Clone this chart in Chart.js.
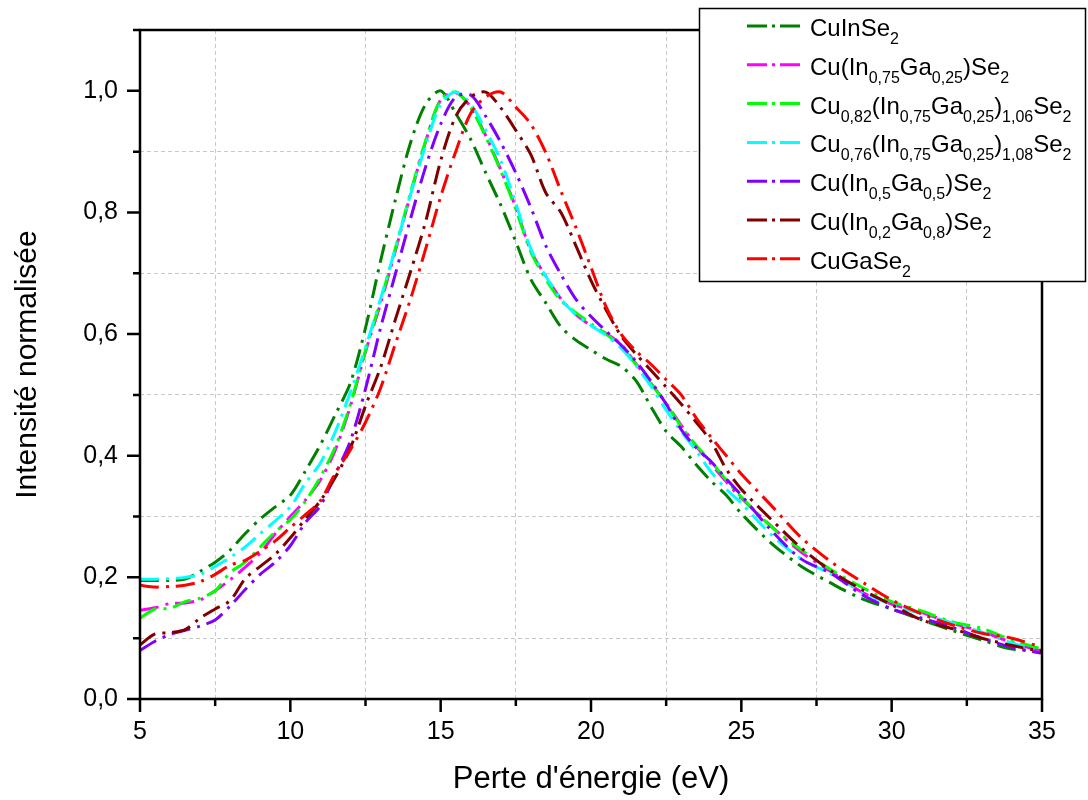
<!DOCTYPE html>
<html lang="fr">
<head>
<meta charset="utf-8">
<title>Intensité normalisée</title>
<script src="https://cdn.jsdelivr.net/npm/chart.js@4/dist/chart.umd.min.js"></script>
<style>
body { margin: 0; background: #fff; }
#graph { display: block; }
</style>
</head>
<body>
<canvas id="graph" width="1088" height="800"></canvas>
<script>
//Perte d'énergie (eV), commune à toutes les courbes
var energie = [5, 5.5, 6, 6.5, 7, 7.5, 8, 8.5, 9, 9.5, 10, 10.5, 11, 11.5, 12, 12.5, 13, 13.5, 14, 14.5,
    15, 15.5, 16, 16.5, 17, 17.5, 18, 18.5, 19, 19.5, 20, 20.5, 21, 21.5, 22, 22.5, 23, 23.5, 24, 24.5,
    25, 26, 27, 28, 29, 30, 31, 32, 33, 34, 35];

//Noms des échantillons (les indices sont notés _{...})
var noms = ["CuInSe_{2}", "Cu(In_{0,75}Ga_{0,25})Se_{2}", "Cu_{0,82}(In_{0,75}Ga_{0,25})_{1,06}Se_{2}",
    "Cu_{0,76}(In_{0,75}Ga_{0,25})_{1,08}Se_{2}", "Cu(In_{0,5}Ga_{0,5})Se_{2}", "Cu(In_{0,2}Ga_{0,8})Se_{2}", "CuGaSe_{2}"];
var couleurs = ["#008000", "#ff00ff", "#00ff00", "#00ffff", "#8000ff", "#800000", "#ff0000"];

//Intensités normalisées
var cuInSe2 = [0.195, 0.195, 0.195, 0.197, 0.21, 0.225, 0.245, 0.272, 0.296, 0.316, 0.335, 0.375, 0.418, 0.468, 0.52, 0.61, 0.72, 0.822, 0.915, 0.978,
    1.0, 0.963, 0.92, 0.865, 0.812, 0.752, 0.69, 0.651, 0.612, 0.59, 0.574, 0.559, 0.547, 0.523, 0.48, 0.44, 0.415, 0.385, 0.358, 0.335,
    0.305, 0.256, 0.218, 0.19, 0.165, 0.148, 0.13, 0.113, 0.097, 0.082, 0.08];
var cuIn75 = [0.146, 0.15, 0.157, 0.158, 0.163, 0.178, 0.196, 0.217, 0.24, 0.272, 0.3, 0.327, 0.36, 0.41, 0.482, 0.571, 0.65, 0.738, 0.83, 0.916,
    0.985, 0.997, 0.973, 0.926, 0.87, 0.808, 0.737, 0.695, 0.658, 0.632, 0.614, 0.601, 0.583, 0.551, 0.519, 0.486, 0.45, 0.416, 0.386, 0.357,
    0.33, 0.284, 0.241, 0.209, 0.176, 0.156, 0.142, 0.125, 0.111, 0.093, 0.078];
var cu82 = [0.133, 0.148, 0.149, 0.16, 0.166, 0.178, 0.208, 0.225, 0.25, 0.275, 0.295, 0.325, 0.365, 0.415, 0.485, 0.573, 0.655, 0.742, 0.833, 0.918,
    0.985, 0.998, 0.972, 0.924, 0.868, 0.805, 0.735, 0.69, 0.655, 0.635, 0.617, 0.6, 0.58, 0.55, 0.518, 0.485, 0.448, 0.417, 0.39, 0.36,
    0.332, 0.283, 0.245, 0.212, 0.184, 0.16, 0.145, 0.127, 0.116, 0.097, 0.082];
var cu76 = [0.197, 0.197, 0.198, 0.2, 0.205, 0.218, 0.233, 0.25, 0.272, 0.293, 0.316, 0.355, 0.388, 0.44, 0.505, 0.578, 0.658, 0.742, 0.83, 0.91,
    0.978, 0.998, 0.978, 0.935, 0.885, 0.815, 0.74, 0.695, 0.658, 0.632, 0.614, 0.598, 0.577, 0.548, 0.514, 0.475, 0.44, 0.408, 0.373, 0.345,
    0.322, 0.27, 0.23, 0.205, 0.177, 0.155, 0.14, 0.125, 0.11, 0.092, 0.078];
var cuIn50 = [0.08, 0.095, 0.106, 0.113, 0.12, 0.13, 0.153, 0.18, 0.205, 0.225, 0.252, 0.29, 0.318, 0.37, 0.425, 0.51, 0.61, 0.7, 0.79, 0.875,
    0.945, 0.99, 0.993, 0.958, 0.915, 0.865, 0.808, 0.745, 0.698, 0.657, 0.629, 0.605, 0.582, 0.555, 0.522, 0.485, 0.443, 0.413, 0.39, 0.362,
    0.335, 0.277, 0.23, 0.206, 0.172, 0.148, 0.133, 0.118, 0.1, 0.085, 0.075];
var cuIn20 = [0.089, 0.107, 0.109, 0.114, 0.133, 0.148, 0.162, 0.198, 0.218, 0.238, 0.265, 0.296, 0.326, 0.365, 0.413, 0.482, 0.545, 0.625, 0.703, 0.785,
    0.885, 0.958, 0.99, 0.998, 0.972, 0.935, 0.895, 0.832, 0.8, 0.745, 0.688, 0.64, 0.597, 0.567, 0.54, 0.513, 0.485, 0.455, 0.423, 0.378,
    0.345, 0.295, 0.248, 0.21, 0.18, 0.155, 0.13, 0.116, 0.1, 0.088, 0.078];
var cuGaSe2 = [0.187, 0.184, 0.185, 0.187, 0.193, 0.205, 0.22, 0.228, 0.243, 0.26, 0.282, 0.303, 0.326, 0.372, 0.41, 0.455, 0.511, 0.585, 0.658, 0.74,
    0.826, 0.9, 0.963, 0.99, 0.998, 0.973, 0.945, 0.898, 0.835, 0.775, 0.71, 0.645, 0.6, 0.572, 0.55, 0.525, 0.5, 0.462, 0.43, 0.4,
    0.37, 0.318, 0.265, 0.225, 0.193, 0.163, 0.14, 0.122, 0.108, 0.1, 0.085];
var series = [cuInSe2, cuIn75, cu82, cu76, cuIn50, cuIn20, cuGaSe2];

var police = "'Liberation Sans', Arial, sans-serif";
var tirets = [19, 7, 3, 7];

function estMajeurY(v) {
    return Math.round(v * 10) % 2 === 0;
}

//Cadre noir autour du graphe et graduations extérieures
var cadre = {
    id: 'cadre',
    afterDatasetsDraw: function(chart) {
        var ctx = chart.ctx;
        var a = chart.chartArea;
        var sx = chart.scales.x;
        var sy = chart.scales.y;
        ctx.save();
        ctx.strokeStyle = '#000';
        ctx.lineWidth = 2.5;
        ctx.strokeRect(a.left, a.top, a.right - a.left, a.bottom - a.top);
        ctx.beginPath();
        sx.ticks.forEach(function(t) {
            var px = sx.getPixelForValue(t.value);
            var len = t.value % 5 === 0 ? 13 : 7;
            ctx.moveTo(px, a.bottom);
            ctx.lineTo(px, a.bottom + len);
        });
        sy.ticks.forEach(function(t) {
            var py = sy.getPixelForValue(t.value);
            var len = estMajeurY(t.value) ? 13 : 7;
            ctx.moveTo(a.left, py);
            ctx.lineTo(a.left - len, py);
        });
        ctx.stroke();
        ctx.restore();
    }
};

//Légende dessinée à la main pour avoir les indices
var legende = {
    id: 'legende',
    afterDraw: function(chart) {
        var ctx = chart.ctx;
        ctx.save();
        ctx.fillStyle = '#fff';
        ctx.fillRect(699, 8, 387, 274);
        ctx.strokeStyle = '#000';
        ctx.lineWidth = 1.5;
        ctx.strokeRect(699.5, 8.5, 386, 273);
        chart.data.datasets.forEach(function(ds, i) {
            var y = 26 + i * 38.8;
            ctx.strokeStyle = ds.borderColor;
            ctx.lineWidth = 3;
            ctx.setLineDash([20, 5, 3, 5]);
            ctx.beginPath();
            ctx.moveTo(747, y);
            ctx.lineTo(800, y);
            ctx.stroke();
            ctx.setLineDash([]);
            var x = 810;
            ctx.fillStyle = '#000';
            ctx.textBaseline = 'alphabetic';
            ctx.textAlign = 'left';
            ds.label.split(/(_\{[^}]*\})/).forEach(function(morceau) {
                if (morceau === '') return;
                var m = morceau.match(/^_\{([^}]*)\}$/);
                if (m) {
                    ctx.font = '16px ' + police;
                    ctx.fillText(m[1], x, y + 18);
                    x += ctx.measureText(m[1]).width;
                } else {
                    ctx.font = '24px ' + police;
                    ctx.fillText(morceau, x, y + 10);
                    x += ctx.measureText(morceau).width;
                }
            });
        });
        ctx.restore();
    }
};

var datasets = series.map(function(valeurs, i) {
    return {
        label: noms[i],
        data: valeurs.map(function(v, k) { return { x: energie[k], y: v }; }),
        borderColor: couleurs[i],
        borderWidth: 3,
        borderDash: tirets,
        fill: false,
        pointRadius: 0,
        tension: 0.3,
        order: series.length - 1 - i
    };
});

window.myChart = new Chart(document.getElementById('graph'), {
    type: 'line',
    data: { datasets: datasets },
    options: {
        responsive: false,
        animation: false,
        layout: { padding: { top: 30, right: 46, left: 0, bottom: 0 } },
        plugins: {
            legend: { display: false },
            tooltip: { enabled: false }
        },
        scales: {
            x: {
                type: 'linear',
                min: 5,
                max: 35,
                afterFit: function(s) { s.height = 101; },
                ticks: {
                    stepSize: 2.5,
                    autoSkip: false,
                    maxRotation: 0,
                    maxTicksLimit: 100,
                    padding: 5,
                    color: '#000',
                    font: { family: police, size: 25 },
                    callback: function(v) { return v % 5 === 0 ? String(v) : ''; }
                },
                grid: {
                    color: function(c) { return c.tick && c.tick.value % 5 !== 0 ? '#c8c8c8' : 'rgba(0,0,0,0)'; },
                    lineWidth: 1,
                    tickLength: 13,
                    tickColor: 'rgba(0,0,0,0)'
                },
                border: { display: false, dash: [4, 3] },
                title: {
                    display: true,
                    text: "Perte d'énergie (eV)",
                    color: '#000',
                    font: { family: police, size: 31 },
                    padding: { top: 0, bottom: 2 }
                }
            },
            y: {
                min: 0,
                max: 1.1,
                afterFit: function(s) { s.width = 140; },
                ticks: {
                    stepSize: 0.1,
                    maxTicksLimit: 100,
                    padding: 9,
                    color: '#000',
                    font: { family: police, size: 25 },
                    callback: function(v) {
                        return estMajeurY(v) ? v.toFixed(1).replace('.', ',') : '';
                    }
                },
                grid: {
                    color: function(c) { return c.tick && !estMajeurY(c.tick.value) ? '#c8c8c8' : 'rgba(0,0,0,0)'; },
                    lineWidth: 1,
                    tickLength: 13,
                    tickColor: 'rgba(0,0,0,0)'
                },
                border: { display: false, dash: [4, 3] },
                title: {
                    display: true,
                    text: 'Intensité normalisée',
                    color: '#000',
                    font: { family: police, size: 30 },
                    padding: { top: 10, bottom: 0 }
                }
            }
        }
    },
    plugins: [cadre, legende]
});
</script>
</body>
</html>
